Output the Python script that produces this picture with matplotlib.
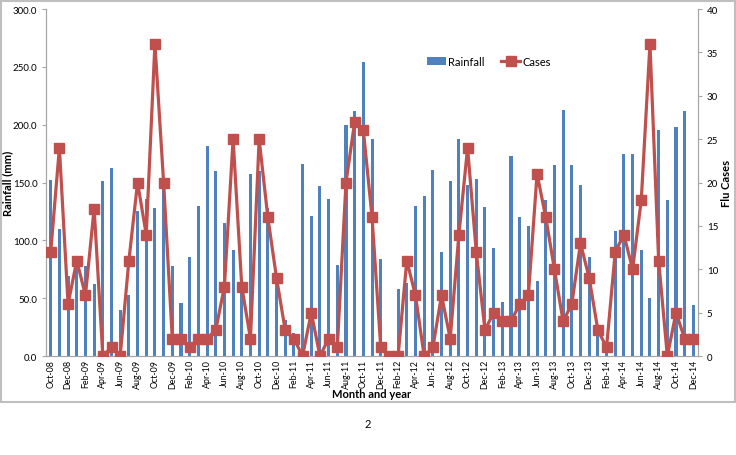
import matplotlib.pyplot as plt
from matplotlib.patches import Rectangle
import numpy as np

plt.rcParams['font.family'] = ['Lato', 'DejaVu Sans']

# monthly data, Oct-08 .. Dec-14
months = ['Oct-08', 'Nov-08', 'Dec-08', 'Jan-09', 'Feb-09', 'Mar-09', 'Apr-09', 'May-09', 'Jun-09',
          'Jul-09', 'Aug-09', 'Sep-09', 'Oct-09', 'Nov-09', 'Dec-09', 'Jan-10', 'Feb-10', 'Mar-10',
          'Apr-10', 'May-10', 'Jun-10', 'Jul-10', 'Aug-10', 'Sep-10', 'Oct-10', 'Nov-10', 'Dec-10',
          'Jan-11', 'Feb-11', 'Mar-11', 'Apr-11', 'May-11', 'Jun-11', 'Jul-11', 'Aug-11', 'Sep-11',
          'Oct-11', 'Nov-11', 'Dec-11', 'Jan-12', 'Feb-12', 'Mar-12', 'Apr-12', 'May-12', 'Jun-12',
          'Jul-12', 'Aug-12', 'Sep-12', 'Oct-12', 'Nov-12', 'Dec-12', 'Jan-13', 'Feb-13', 'Mar-13',
          'Apr-13', 'May-13', 'Jun-13', 'Jul-13', 'Aug-13', 'Sep-13', 'Oct-13', 'Nov-13', 'Dec-13',
          'Jan-14', 'Feb-14', 'Mar-14', 'Apr-14', 'May-14', 'Jun-14', 'Jul-14', 'Aug-14', 'Sep-14',
          'Oct-14', 'Nov-14', 'Dec-14']

rainfall = [152, 110, 69, 80, 78, 62, 151, 163, 40,
            53, 125, 136, 128, 145, 78, 46, 86, 130,
            182, 160, 115, 92, 60, 157, 160, 128, 65,
            31, 20, 166, 121, 147, 136, 79, 200, 212,
            254, 188, 84, 0, 58, 63, 130, 138, 161,
            90, 151, 188, 148, 153, 129, 93, 47, 173,
            120, 112, 65, 135, 165, 213, 165, 148, 86,
            25, 10, 108, 175, 175, 92, 50, 195, 135,
            198, 212, 44]

cases = [12, 24, 6, 11, 7, 17, 0, 1, 0,
         11, 20, 14, 36, 20, 2, 2, 1, 2,
         2, 3, 8, 25, 8, 2, 25, 16, 9,
         3, 2, 0, 5, 0, 2, 1, 20, 27,
         26, 16, 1, 0, 0, 11, 7, 0, 1,
         7, 2, 14, 24, 12, 3, 5, 4, 4,
         6, 7, 21, 16, 10, 4, 6, 13, 9,
         3, 1, 12, 14, 10, 18, 36, 11, 0,
         5, 2, 2]

blue = '#4F81BD'
red = '#C0504D'
grey = '#A6A6A6'

fig = plt.figure(figsize=(7.36, 4.56), dpi=100)
ax = fig.add_axes([0.063, 0.217, 0.885, 0.761])
x = np.arange(len(months))

ax.bar(x, rainfall, width=0.35, color=blue, label='Rainfall', zorder=2)
ax.set_xlim(-0.5, len(months) - 0.5)
ax.set_ylim(0, 300)
ax.set_yticks(np.arange(0, 301, 50))
ax.set_yticklabels([f'{v:.1f}' for v in np.arange(0, 301, 50)], fontsize=7)
ax.set_xticks(x[::2])
ax.set_xticklabels(months[::2], rotation=90, fontsize=6.4)
ax.set_ylabel('Rainfall (mm)', fontsize=8, fontweight='bold')
ax.yaxis.set_label_coords(-0.051, 0.5)
ax.set_xlabel('Month and year', fontsize=8, fontweight='bold', labelpad=0)

ax2 = ax.twinx()
ax2.plot(x, cases, color=red, lw=2.3, marker='s', markersize=6.5, label='Cases', zorder=3)
ax2.set_ylim(0, 40)
ax2.set_yticks(range(0, 41, 5))
ax2.tick_params(axis='y', labelsize=7)
ax2.set_ylabel('Flu Cases', fontsize=8, fontweight='bold')
ax2.yaxis.set_label_coords(1.035, 0.5)

for a in (ax, ax2):
    a.spines['top'].set_visible(False)
    for s in ('left', 'right', 'bottom'):
        a.spines[s].set_color(grey)
    a.tick_params(colors=grey, labelcolor='black', length=3, width=0.8)
ax.tick_params(axis='x', length=0, pad=2)

h1, l1 = ax.get_legend_handles_labels()
h2, l2 = ax2.get_legend_handles_labels()
fig.legend(h1 + h2, l1 + l2, loc='center', bbox_to_anchor=(0.664, 0.864), ncol=2,
           frameon=False, fontsize=8, handlelength=1.7, columnspacing=1.5, handletextpad=0.2)

# outer chart frame and page number
fig.patches.append(Rectangle((0.002, 0.117), 0.996, 0.879, transform=fig.transFigure,
                             fill=False, edgecolor='#BFBFBF', lw=1.5))
fig.text(0.5, 0.068, '2', ha='center', va='center', fontsize=8)

fig.savefig('out.png', dpi=100)
